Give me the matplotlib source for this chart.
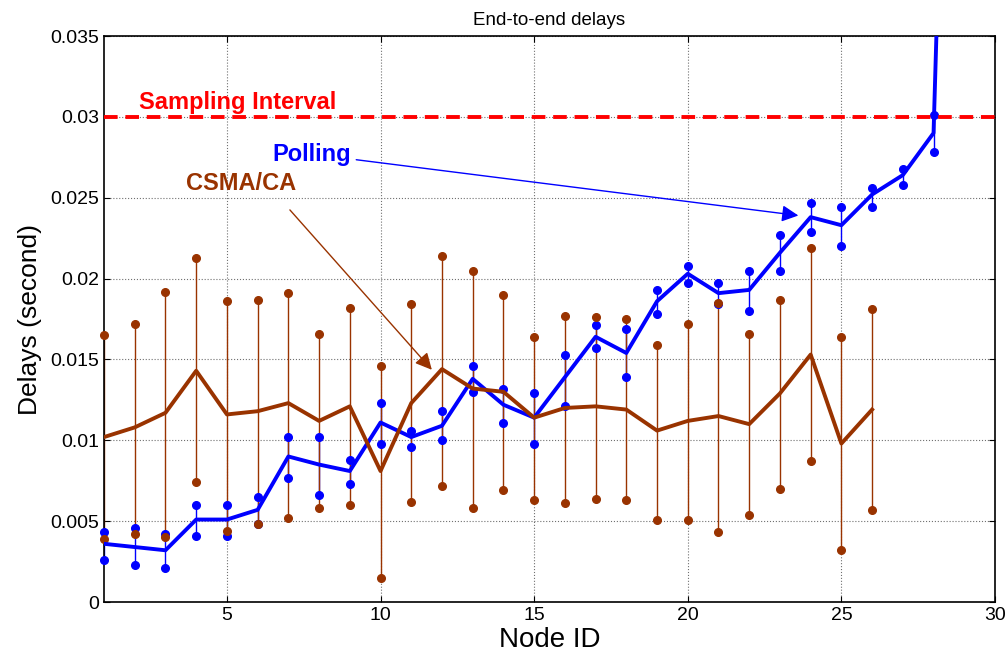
import matplotlib.pyplot as plt
import numpy as np

plt.rcParams['font.family'] = ['Liberation Sans', 'DejaVu Sans']

# node ids
nodes_csma = np.arange(1, 27)
nodes_poll = np.arange(1, 29)

# CSMA/CA delays (mean, min, max) in seconds
csma_mean = [0.0102, 0.0108, 0.0117, 0.0143, 0.0116, 0.0118, 0.0123, 0.0112, 0.0121, 0.0081,
             0.0123, 0.0144, 0.0132, 0.0130, 0.0114, 0.0120, 0.0121, 0.0119, 0.0106, 0.0112,
             0.0115, 0.0110, 0.0129, 0.0153, 0.0098, 0.0119]
csma_low = [0.0039, 0.0042, 0.0040, 0.0074, 0.0044, 0.0048, 0.0052, 0.0058, 0.0060, 0.0015,
            0.0062, 0.0072, 0.0058, 0.0069, 0.0063, 0.0061, 0.0064, 0.0063, 0.0051, 0.0051,
            0.0043, 0.0054, 0.0070, 0.0087, 0.0032, 0.0057]
csma_high = [0.0165, 0.0172, 0.0192, 0.0213, 0.0186, 0.0187, 0.0191, 0.0166, 0.0182, 0.0146,
             0.0184, 0.0214, 0.0205, 0.0190, 0.0164, 0.0177, 0.0176, 0.0175, 0.0159, 0.0172,
             0.0185, 0.0166, 0.0187, 0.0219, 0.0164, 0.0181]

# Polling delays (mean, min, max) in seconds
poll_mean = [0.0036, 0.0034, 0.0032, 0.0051, 0.0051, 0.0057, 0.0090, 0.0085, 0.0081, 0.0111,
             0.0102, 0.0109, 0.0138, 0.0122, 0.0114, 0.0139, 0.0164, 0.0154, 0.0186, 0.0203,
             0.0191, 0.0193, 0.0216, 0.0238, 0.0233, 0.0252, 0.0264, 0.0290]
poll_low = [0.0026, 0.0023, 0.0021, 0.0041, 0.0041, 0.0048, 0.0077, 0.0066, 0.0073, 0.0098,
            0.0096, 0.0100, 0.0130, 0.0111, 0.0098, 0.0121, 0.0157, 0.0139, 0.0178, 0.0197,
            0.0184, 0.0180, 0.0205, 0.0229, 0.0220, 0.0244, 0.0258, 0.0278]
poll_high = [0.0043, 0.0046, 0.0042, 0.0060, 0.0060, 0.0065, 0.0102, 0.0102, 0.0088, 0.0123,
             0.0106, 0.0118, 0.0146, 0.0132, 0.0129, 0.0153, 0.0171, 0.0169, 0.0193, 0.0208,
             0.0197, 0.0205, 0.0227, 0.0247, 0.0244, 0.0256, 0.0268, 0.0301]
# node 29 goes off the top of the chart
poll_last_node = 29
poll_last_value = 0.094

sampling_interval = 0.03

brown = '#993300'
blue = '#0000ff'

fig = plt.figure(figsize=(10.08, 6.62), dpi=100)
ax = fig.add_axes([0.1032, 0.0906, 0.8839, 0.855])

# polling range bars
for x, lo, hi in zip(nodes_poll, poll_low, poll_high):
    ax.plot([x, x], [lo, hi], color=blue, lw=1, zorder=2)
ax.plot(nodes_poll, poll_low, 'o', color=blue, ms=5.5, zorder=3, clip_on=False)
ax.plot(nodes_poll, poll_high, 'o', color=blue, ms=5.5, zorder=3, clip_on=False)

# csma range bars
for x, lo, hi in zip(nodes_csma, csma_low, csma_high):
    ax.plot([x, x], [lo, hi], color=brown, lw=1, zorder=2)
ax.plot(nodes_csma, csma_low, 'o', color=brown, ms=5.5, zorder=3, clip_on=False)
ax.plot(nodes_csma, csma_high, 'o', color=brown, ms=5.5, zorder=3, clip_on=False)

ax.plot(list(nodes_poll) + [poll_last_node], poll_mean + [poll_last_value],
        color=blue, lw=2.8, zorder=4)
ax.plot(nodes_csma, csma_mean, color=brown, lw=2.8, zorder=4)

ax.axhline(sampling_interval, color='red', ls=(0, (3.5, 2)), lw=2.8, zorder=5)

ax.text(2.14, 0.0309, 'Sampling Interval', color='red', fontsize=17,
        fontweight='bold', va='center')
ax.annotate('Polling', xy=(23.6, 0.0239), xytext=(6.47, 0.0277),
            color=blue, fontsize=17, fontweight='bold', va='center',
            arrowprops=dict(arrowstyle='-|>', color=blue, lw=1,
                            mutation_scale=25, shrinkA=2, shrinkB=0))
ax.annotate('CSMA/CA', xy=(11.67, 0.01436), xytext=(3.67, 0.0259),
            color=brown, fontsize=17, fontweight='bold', va='center',
            arrowprops=dict(arrowstyle='-|>', color=brown, lw=1,
                            mutation_scale=25, shrinkA=12, shrinkB=0,
                            relpos=(0.82, 0.0)))

ax.set_xlim(1, 30)
ax.set_ylim(0, 0.035)
ax.set_xticks([5, 10, 15, 20, 25, 30])
ax.set_yticks(np.arange(0, 0.0351, 0.005))
ax.set_yticklabels(['0', '0.005', '0.01', '0.015', '0.02', '0.025', '0.03', '0.035'])
ax.tick_params(direction='in', top=True, right=True, labelsize=14, length=4)
ax.grid(True, color='#707070', ls=':', lw=0.8)
for s in ax.spines.values():
    s.set_linewidth(1.2)

ax.set_title('End-to-end delays', fontsize=13.5, pad=8)
ax.set_xlabel('Node ID', fontsize=20, labelpad=2)
ax.set_ylabel('Delays (second)', fontsize=19, labelpad=6)

fig.savefig('out.png', dpi=100)
